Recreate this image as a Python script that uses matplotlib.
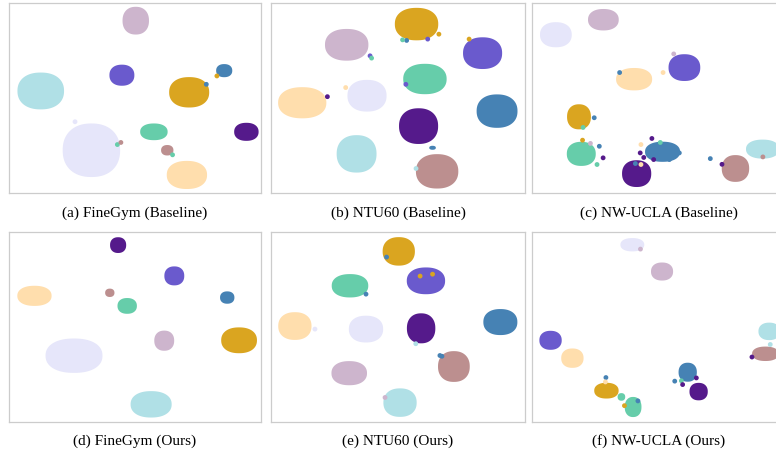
import matplotlib
matplotlib.use('Agg')
import matplotlib.pyplot as plt
import numpy as np
from matplotlib.patches import Polygon

# colour of each action class
colors = {
    'lavender': '#E6E6FA', 'thistle': '#CDB5CD', 'slateblue': '#6A5ACD',
    'goldenrod': '#DAA520', 'steelblue': '#4682B4', 'indigo': '#551A8B',
    'aquamarine': '#66CDAA', 'rosybrown': '#BC8F8F', 'navajo': '#FFDEAD',
    'powder': '#B0E0E6',
}

# clusters per panel: class, centre x, centre y, width, height (panel units 0-100)
a_cls = ['thistle', 'slateblue', 'powder', 'goldenrod', 'steelblue', 'aquamarine',
         'indigo', 'lavender', 'rosybrown', 'navajo']
a_x = [50.3, 44.8, 12.6, 71.5, 85.4, 57.5, 94.2, 32.7, 62.8, 70.6]
a_y = [90.7, 62.0, 53.7, 53.0, 64.4, 32.2, 32.2, 22.5, 22.5, 9.5]
a_w = [10.5, 9.9, 18.5, 15.9, 6.4, 10.9, 9.7, 22.8, 4.9, 16.0]
a_h = [14.6, 11.1, 19.4, 16.0, 6.9, 8.8, 9.5, 28.2, 5.5, 14.8]
a_pts = [('goldenrod', 82.5, 61.6), ('steelblue', 78.3, 57.2), ('lavender', 26.2, 37.5),
         ('aquamarine', 43.0, 25.5), ('rosybrown', 44.4, 26.6), ('aquamarine', 64.9, 20.1)]

b_cls = ['goldenrod', 'thistle', 'slateblue', 'aquamarine', 'navajo', 'lavender',
         'steelblue', 'indigo', 'powder', 'steelblue', 'rosybrown']
b_x = [57.3, 29.8, 83.3, 60.6, 12.3, 37.8, 89.0, 58.1, 33.7, 63.6, 65.4]
b_y = [88.9, 78.0, 73.6, 60.0, 47.5, 51.2, 43.1, 35.2, 20.6, 23.8, 11.4]
b_w = [17.1, 17.1, 15.4, 17.1, 19.0, 15.4, 16.1, 15.4, 15.7, 2.6, 16.7]
b_h = [17.1, 16.7, 16.7, 16.0, 16.4, 16.7, 17.6, 18.8, 19.7, 2.1, 18.1]
b_pts = [('goldenrod', 66.1, 83.6), ('slateblue', 61.7, 81.0), ('steelblue', 53.4, 80.3),
         ('aquamarine', 51.8, 80.6), ('slateblue', 39.0, 72.2), ('aquamarine', 39.6, 71.0),
         ('goldenrod', 78.0, 81.0), ('slateblue', 53.1, 57.2), ('indigo', 22.2, 50.7),
         ('navajo', 29.4, 55.5), ('powder', 28.1, 25.7), ('powder', 57.1, 12.9)]

c_cls = ['lavender', 'thistle', 'slateblue', 'navajo', 'goldenrod', 'aquamarine',
         'steelblue', 'indigo', 'rosybrown', 'powder']
c_x = [9.4, 28.1, 60.0, 40.2, 18.5, 19.4, 51.4, 41.2, 80.1, 90.8]
c_y = [83.3, 91.2, 66.0, 59.9, 40.1, 20.6, 21.7, 10.2, 12.9, 23.1]
c_w = [12.5, 12.1, 12.5, 14.2, 9.4, 11.4, 13.8, 11.5, 10.8, 13.1]
c_h = [13.2, 11.3, 14.1, 11.8, 13.2, 12.7, 10.6, 14.1, 14.1, 10.0]
c_pts = [('thistle', 55.8, 73.2), ('steelblue', 34.5, 63.4), ('navajo', 51.6, 63.4),
         ('steelblue', 24.5, 39.6), ('aquamarine', 20.1, 34.5), ('goldenrod', 19.9, 27.8),
         ('thistle', 23.0, 26.1), ('steelblue', 26.5, 24.6), ('indigo', 28.0, 18.5),
         ('aquamarine', 25.6, 15.0), ('aquamarine', 50.5, 26.6), ('indigo', 47.2, 28.7),
         ('navajo', 42.9, 25.5), ('indigo', 42.6, 21.1), ('indigo', 44.0, 18.7),
         ('indigo', 47.9, 17.6), ('steelblue', 54.1, 17.6), ('steelblue', 58.0, 21.1),
         ('navajo', 42.9, 15.0), ('steelblue', 40.7, 15.5), ('steelblue', 70.2, 18.1),
         ('indigo', 74.8, 15.1), ('rosybrown', 90.9, 19.0)]

d_cls = ['indigo', 'slateblue', 'navajo', 'rosybrown', 'aquamarine', 'steelblue',
         'thistle', 'goldenrod', 'lavender', 'powder']
d_x = [43.3, 65.6, 10.1, 40.0, 46.9, 86.6, 61.6, 91.3, 25.8, 56.4]
d_y = [93.1, 76.9, 66.4, 68.0, 61.1, 65.5, 42.8, 43.0, 34.9, 9.3]
d_w = [6.4, 7.9, 13.6, 3.7, 7.7, 5.7, 7.9, 14.2, 22.6, 16.3]
d_h = [8.3, 10.0, 10.6, 4.4, 8.3, 6.5, 10.6, 13.6, 18.1, 13.9]
d_pts = []

e_cls = ['goldenrod', 'aquamarine', 'slateblue', 'navajo', 'lavender', 'indigo',
         'steelblue', 'rosybrown', 'thistle', 'powder']
e_x = [50.3, 31.1, 61.0, 9.4, 37.4, 59.1, 90.3, 72.0, 30.8, 50.8]
e_y = [89.8, 71.7, 74.3, 50.5, 48.9, 49.3, 52.6, 29.2, 25.7, 10.2]
e_w = [12.7, 14.4, 15.1, 13.1, 13.5, 11.2, 13.4, 12.5, 14.0, 13.1]
e_h = [15.0, 12.3, 14.1, 14.6, 14.1, 15.8, 13.7, 16.2, 12.7, 15.0]
e_pts = [('steelblue', 45.5, 86.8), ('steelblue', 37.4, 67.3), ('goldenrod', 58.7, 76.8),
         ('goldenrod', 63.6, 77.8), ('lavender', 17.3, 48.9), ('powder', 57.0, 41.2),
         ('steelblue', 66.5, 35.0), ('steelblue', 67.3, 34.6), ('thistle', 44.9, 12.9)]

f_cls = ['lavender', 'thistle', 'slateblue', 'navajo', 'powder', 'rosybrown',
         'steelblue', 'indigo', 'goldenrod', 'aquamarine', 'aquamarine']
f_x = [39.5, 51.2, 7.3, 15.9, 93.4, 91.9, 61.3, 65.6, 29.3, 39.8, 35.2]
f_y = [93.3, 79.2, 43.0, 33.6, 47.7, 35.9, 26.2, 16.0, 16.5, 7.9, 13.2]
f_w = [9.4, 8.7, 8.8, 8.8, 8.5, 10.5, 7.2, 7.2, 9.6, 6.6, 3.0]
f_h = [7.0, 9.5, 10.0, 10.2, 9.2, 7.6, 10.0, 9.2, 8.3, 10.6, 4.0]
f_pts = [('thistle', 42.7, 91.0), ('powder', 93.8, 40.8), ('indigo', 86.6, 34.2),
         ('steelblue', 56.2, 21.5), ('indigo', 64.7, 23.2), ('aquamarine', 58.8, 21.7),
         ('indigo', 59.3, 19.7), ('steelblue', 29.1, 23.4), ('navajo', 28.9, 21.1),
         ('steelblue', 41.7, 11.1), ('goldenrod', 36.4, 8.6)]

captions = ['(a) FineGym (Baseline)', '(b) NTU60 (Baseline)', '(c) NW-UCLA (Baseline)',
            '(d) FineGym (Ours)', '(e) NTU60 (Ours)', '(f) NW-UCLA (Ours)']

panels = [(a_cls, a_x, a_y, a_w, a_h, a_pts), (b_cls, b_x, b_y, b_w, b_h, b_pts),
          (c_cls, c_x, c_y, c_w, c_h, c_pts), (d_cls, d_x, d_y, d_w, d_h, d_pts),
          (e_cls, e_x, e_y, e_w, e_h, e_pts), (f_cls, f_x, f_y, f_w, f_h, f_pts)]


def blob(x, y, w, h, color):
    # slightly squared ellipse outline for a dense point cloud
    t = np.linspace(0, 2 * np.pi, 80)
    ct, st = np.cos(t), np.sin(t)
    n = 2.25
    bx = x + w / 2 * np.sign(ct) * np.abs(ct) ** (2 / n)
    by = y + h / 2 * np.sign(st) * np.abs(st) ** (2 / n)
    return Polygon(np.column_stack([bx, by]), closed=True, facecolor=color,
                   edgecolor='none')


W, H = 776, 454
fig = plt.figure(figsize=(W / 100, H / 100), dpi=100)

# panel boxes in pixels: left, top, width, height
lefts = [9, 271, 532]
widths = [252, 254, 254]
tops = [3, 232]
ph = 190
cap_y = [213, 441]

for i, (cls, xs, ys, ws, hs, pts) in enumerate(panels):
    r, c = divmod(i, 3)
    ax = fig.add_axes([lefts[c] / W, 1 - (tops[r] + ph) / H, widths[c] / W, ph / H])
    ax.set_xlim(0, 100)
    ax.set_ylim(0, 100)
    ax.set_xticks([])
    ax.set_yticks([])
    for s in ax.spines.values():
        s.set_color('#cccccc')
        s.set_linewidth(0.9)
    for k, x, y, w, h in zip(cls, xs, ys, ws, hs):
        ax.add_patch(blob(x, y, w, h, colors[k]))
    if pts:
        px = [p[1] for p in pts]
        py = [p[2] for p in pts]
        pc = [colors[p[0]] for p in pts]
        ax.scatter(px, py, s=12, c=pc, linewidths=0, zorder=3)
    fig.text((lefts[c] + widths[c] / 2) / W, 1 - cap_y[r] / H, captions[i],
             ha='center', va='center', family='Liberation Serif', fontsize=11)

fig.savefig('out.png', dpi=100)
